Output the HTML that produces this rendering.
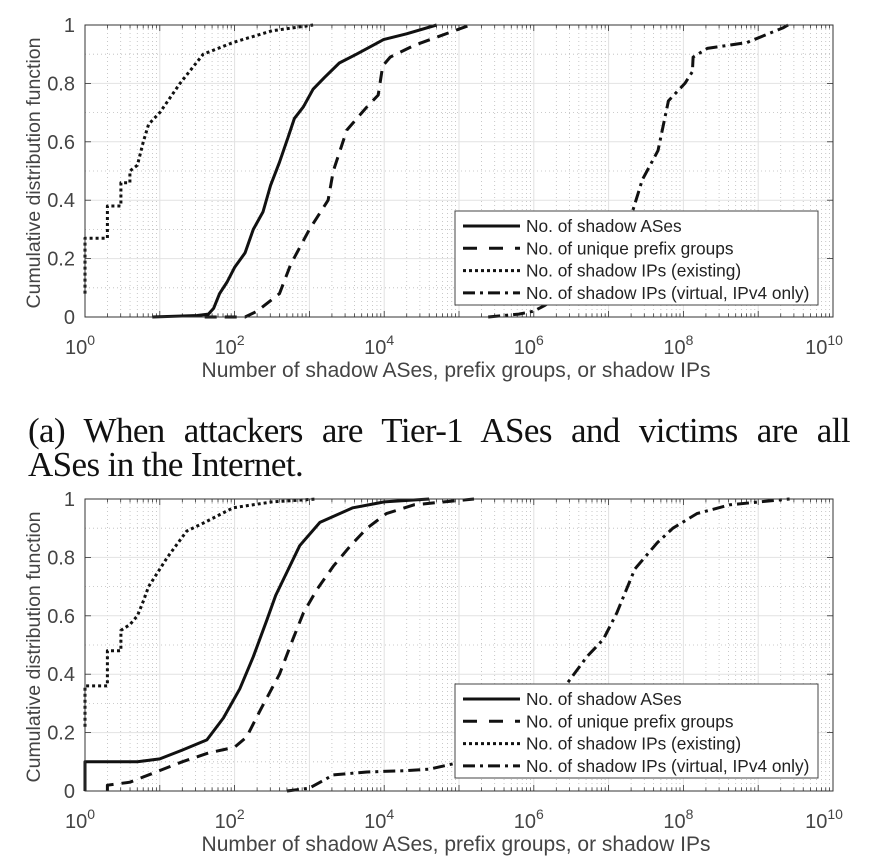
<!DOCTYPE html>
<html><head><meta charset="utf-8"><style>
body{margin:0;background:#fff;width:874px;height:865px;overflow:hidden;position:relative}
svg{display:block}
.cap{position:absolute;left:28px;width:822px;font-family:"Liberation Serif",serif;font-size:35px;color:#111;line-height:34px;white-space:nowrap;letter-spacing:-0.6px}
.cap .l1{display:block;text-align:justify;text-align-last:justify;white-space:normal}
</style></head><body>
<svg id="fig" width="874" height="865" xmlns="http://www.w3.org/2000/svg"></svg>
<div class="cap" style="top:414px"><span class="l1">(a) When attackers are Tier-1 ASes and victims are all</span>ASes in the Internet.</div>
<script>
// Data: log10(x) and CDF values
const topSolidX=[0.9,1.5,1.65,1.72,1.8,1.9,2.0,2.14,2.25,2.38,2.48,2.6,2.72,2.8,2.92,3.05,3.2,3.4,3.63,3.99,4.3,4.7];
const topSolidY=[0,0.005,0.01,0.03,0.08,0.12,0.17,0.22,0.3,0.36,0.45,0.53,0.62,0.68,0.72,0.78,0.82,0.87,0.9,0.95,0.97,1.0];
const topDashX=[1.6,2.14,2.3,2.6,2.75,3.0,3.25,3.32,3.5,3.77,3.92,3.98,4.08,4.4,4.72,5.15];
const topDashY=[0,0,0.02,0.08,0.18,0.3,0.4,0.5,0.64,0.72,0.76,0.86,0.89,0.93,0.96,1.0];
const topDotX=[0,0,0.3,0.3,0.48,0.48,0.6,0.6,0.7,0.78,0.85,1.0,1.27,1.58,1.98,2.5,3.05];
const topDotY=[0.08,0.27,0.27,0.38,0.38,0.46,0.46,0.5,0.52,0.6,0.66,0.7,0.8,0.9,0.94,0.98,1.0];
const topDdX=[5.39,5.8,6.0,6.15,6.5,7.0,7.33,7.45,7.66,7.8,8.02,8.12,8.13,8.32,8.85,9.33,9.4];
const topDdY=[0,0.01,0.02,0.04,0.1,0.2,0.37,0.47,0.57,0.74,0.8,0.84,0.89,0.92,0.94,0.99,1.0];

const botSolidX=[0,0,0.7,1.0,1.3,1.63,1.85,2.07,2.25,2.43,2.55,2.7,2.87,3.14,3.58,4.0,4.6];
const botSolidY=[0,0.1,0.1,0.11,0.14,0.175,0.25,0.35,0.46,0.585,0.67,0.75,0.84,0.92,0.97,0.99,1.0];
const botDashX=[0.3,0.3,0.6,0.9,1.3,1.65,2.0,2.16,2.35,2.6,2.78,2.92,3.1,3.32,3.55,3.77,4.03,4.4,4.8,5.2];
const botDashY=[0,0.02,0.03,0.06,0.1,0.13,0.15,0.185,0.28,0.4,0.52,0.61,0.69,0.77,0.84,0.9,0.95,0.98,0.99,1.0];
const botDotX=[0,0,0.3,0.3,0.48,0.48,0.6,0.7,0.78,0.85,0.95,1.1,1.36,1.6,1.98,2.5,3.1];
const botDotY=[0.22,0.36,0.36,0.48,0.48,0.55,0.57,0.6,0.65,0.7,0.74,0.8,0.89,0.92,0.97,0.99,1.0];
const botDdX=[2.7,3.0,3.32,3.77,4.3,4.61,4.95,5.5,6.0,6.3,6.48,6.71,6.93,7.11,7.35,7.65,7.86,8.18,8.62,9.42];
const botDdY=[0,0.01,0.055,0.065,0.07,0.075,0.095,0.13,0.22,0.32,0.38,0.46,0.52,0.61,0.76,0.85,0.9,0.95,0.98,1.0];

const xTickExp=[0,2,4,6,8,10];
const yTickVals=[0,0.2,0.4,0.6,0.8,1];
const yTickLabels=['0','0.2','0.4','0.6','0.8','1'];
const legendLabels=['No. of shadow ASes','No. of unique prefix groups','No. of shadow IPs (existing)','No. of shadow IPs (virtual, IPv4 only)'];

const NS='http://www.w3.org/2000/svg';
const svg=document.getElementById('fig');
const X0=85,X1=833;
const styles=[{d:''},{d:'12 8'},{d:'3 3'},{d:'12 5 3 5'}];
function el(t,a,p){const e=document.createElementNS(NS,t);for(const k in a)e.setAttribute(k,a[k]);(p||svg).appendChild(e);return e;}

function chart(top,bottom,series,legTop,name){
  const g=el('g',{});
  
  
  const sx=v=>X0+(X1-X0)*v/10;
  const sy=v=>bottom-(bottom-top)*v;
  for(let d=0;d<10;d++)for(let m=2;m<=9;m++){const x=sx(d+Math.log10(m));
    el('line',{x1:x,x2:x,y1:top,y2:bottom,stroke:'#bbb','stroke-width':0.8,'stroke-dasharray':'1 3'},g);}
  for(let v=0.1;v<1;v+=0.2){el('line',{x1:X0,x2:X1,y1:sy(v),y2:sy(v),stroke:'#bbb','stroke-width':0.8,'stroke-dasharray':'1 3'},g);}
  for(let d=1;d<10;d++){const x=sx(d);el('line',{x1:x,x2:x,y1:top,y2:bottom,stroke:'#e2e2e2','stroke-width':1},g);}
  yTickVals.forEach(v=>{if(v>0&&v<1)el('line',{x1:X0,x2:X1,y1:sy(v),y2:sy(v),stroke:'#e2e2e2','stroke-width':1},g);});
  for(let d=0;d<10;d++){for(let m=1;m<=9;m++){const x=sx(d+Math.log10(m));const L=m==1?6:3.5;
    el('line',{x1:x,x2:x,y1:bottom,y2:bottom-L,stroke:'#333','stroke-width':0.8},g);
    el('line',{x1:x,x2:x,y1:top,y2:top+L,stroke:'#333','stroke-width':0.8},g);}}
  yTickVals.forEach(v=>{el('line',{x1:X0,x2:X0+6,y1:sy(v),y2:sy(v),stroke:'#333','stroke-width':0.8},g);
    el('line',{x1:X1,x2:X1-6,y1:sy(v),y2:sy(v),stroke:'#333','stroke-width':0.8},g);});
  const names=['series-shadow-ases','series-prefix-groups','series-shadow-ips-existing','series-shadow-ips-virtual'];
  series.forEach((s,i)=>{
    const pts=s[0].map((x,j)=>sx(x).toFixed(1)+','+sy(s[1][j]).toFixed(1)).join(' ');
    const p=el('polyline',{points:pts,fill:'none',stroke:'#111','stroke-width':3,'stroke-linejoin':'round'},g);
    if(styles[i].d)p.setAttribute('stroke-dasharray',styles[i].d);
    
    
  });
  el('rect',{x:X0,y:top,width:X1-X0,height:bottom-top,fill:'none',stroke:'#333','stroke-width':1},g);
  xTickExp.forEach(e=>{const t=el('text',{x:sx(e)-(e==10?9:5),y:bottom+37,'text-anchor':'middle','font-family':'Liberation Sans, sans-serif','font-size':20,fill:'#444'},g);
    
    
    t.textContent='10';const s=el('tspan',{dy:-9,'font-size':14},t);s.textContent=String(e);});
  yTickVals.forEach((v,i)=>{const t=el('text',{x:75,y:sy(v)+7,'text-anchor':'end','font-family':'Liberation Sans, sans-serif','font-size':20,fill:'#444'},g);
    
    
    t.textContent=yTickLabels[i];});
  const xt=el('text',{x:456,y:bottom+60,'text-anchor':'middle','font-family':'Liberation Sans, sans-serif','font-size':21,fill:'#444'},g);
  
  
  xt.textContent='Number of shadow ASes, prefix groups, or shadow IPs';
  const cy=(top+bottom)/2+2;
  const yt=el('text',{x:0,y:0,transform:`translate(40,${cy}) rotate(-90)`,'text-anchor':'middle','font-family':'Liberation Sans, sans-serif','font-size':19.5,fill:'#444'},g);
  
  
  yt.textContent='Cumulative distribution function';
  const lg=el('g',{},g);
  
  
  el('rect',{x:455,y:legTop,width:363,height:94,fill:'#fff',stroke:'#444','stroke-width':1},lg);
  legendLabels.forEach((lab,i)=>{const y=legTop+15+i*22.3;
    const l=el('line',{x1:463,x2:520,y1:y,y2:y,stroke:'#111','stroke-width':3},lg);
    if(styles[i].d)l.setAttribute('stroke-dasharray',i==1?'14 12':styles[i].d);
    const t=el('text',{x:526,y:y+6,'font-family':'Liberation Sans, sans-serif','font-size':17.3,fill:'#222'},lg);
    
    
    t.textContent=lab;});
}
chart(25,317,[[topSolidX,topSolidY],[topDashX,topDashY],[topDotX,topDotY],[topDdX,topDdY]],211,'chart-a');
chart(499,791,[[botSolidX,botSolidY],[botDashX,botDashY],[botDotX,botDotY],[botDdX,botDdY]],684,'chart-b');
</script>
</body></html>
